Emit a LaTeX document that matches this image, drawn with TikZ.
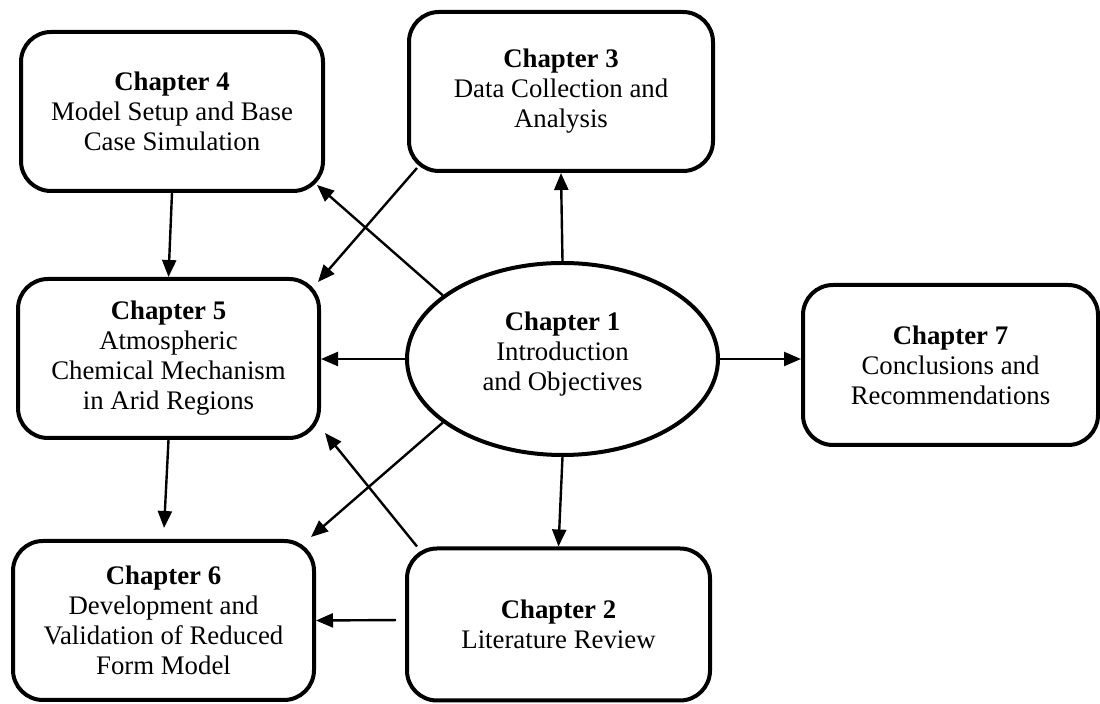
\documentclass[tikz,border=0pt]{standalone}
\usepackage{fontspec}
\setmainfont{Liberation Serif}
\usetikzlibrary{shapes.geometric,arrows.meta}

\begin{document}
\begin{tikzpicture}[x=0.5pt,y=-0.5pt,
		chap/.style={draw,line width=2pt,align=center,font=\fontsize{13.4}{15}\selectfont},
		box/.style={chap,rectangle,rounded corners=15pt},
		>={Triangle[length=8.5pt,width=7pt]},
		every edge/.style={draw,line width=1.2pt}]
		\useasboundingbox (0,0) rectangle (1100,704);

		\node[chap,ellipse,minimum width=155.5pt,minimum height=96pt,text depth=8pt] (ch1) at (562.5,359) {\textbf{Chapter 1}\\Introduction\\and Objectives};
		\node[box,minimum width=151.5pt,minimum height=76pt] (ch2) at (558.5,624.5) {\textbf{Chapter 2}\\Literature Review};
		\node[box,minimum width=152pt,minimum height=79.5pt] (ch3) at (561,91.5) {\textbf{Chapter 3}\\Data Collection and\\Analysis};
		\node[box,minimum width=151pt,minimum height=79.5pt] (ch4) at (172,111.5) {\textbf{Chapter 4}\\Model Setup and Base\\Case Simulation};
		\node[box,minimum width=150.5pt,minimum height=79.5pt] (ch5) at (168.5,358.5) {\textbf{Chapter 5}\\Atmospheric\\Chemical Mechanism\\in Arid Regions};
		\node[box,minimum width=150.5pt,minimum height=79.5pt] (ch6) at (163.5,620.5) {\textbf{Chapter 6}\\Development and\\Validation of Reduced\\Form Model};
		\node[box,minimum width=147.5pt,minimum height=80pt] (ch7) at (950.5,365) {\textbf{Chapter 7}\\Conclusions and\\Recommendations};

		\path[->] (ch1.north) edge (ch3.south);
		\path[->] (ch1.south) edge (ch2.north);
		\path[->] (ch1.west) edge (ch1.west -| ch5.east);
		\path[->] (ch1.east) edge (ch1.east -| ch7.west);
		\path[->] (ch1.152) edge ([xshift=-4pt,yshift=4pt]ch4.south east);
		\path[->] (ch1.208) edge ([xshift=-2.5pt,yshift=1pt]ch6.north east);
		\path[->] ([xshift=5pt,yshift=2.5pt]ch3.south west) edge ([xshift=-1.5pt,yshift=-2.5pt]ch5.north east);
		\path[->] ([xshift=6pt]ch2.north west) edge ([xshift=2pt,yshift=3.5pt]ch5.south east);
		\path[->] (ch4.south) edge (ch5.north);
		\path[->,shorten >=5.5pt] (ch5.south) edge (ch6.north);
		\path[->,shorten <=4.5pt] ([yshift=2.25pt]ch2.west) edge (ch6.east);
	\end{tikzpicture}
\end{document}
